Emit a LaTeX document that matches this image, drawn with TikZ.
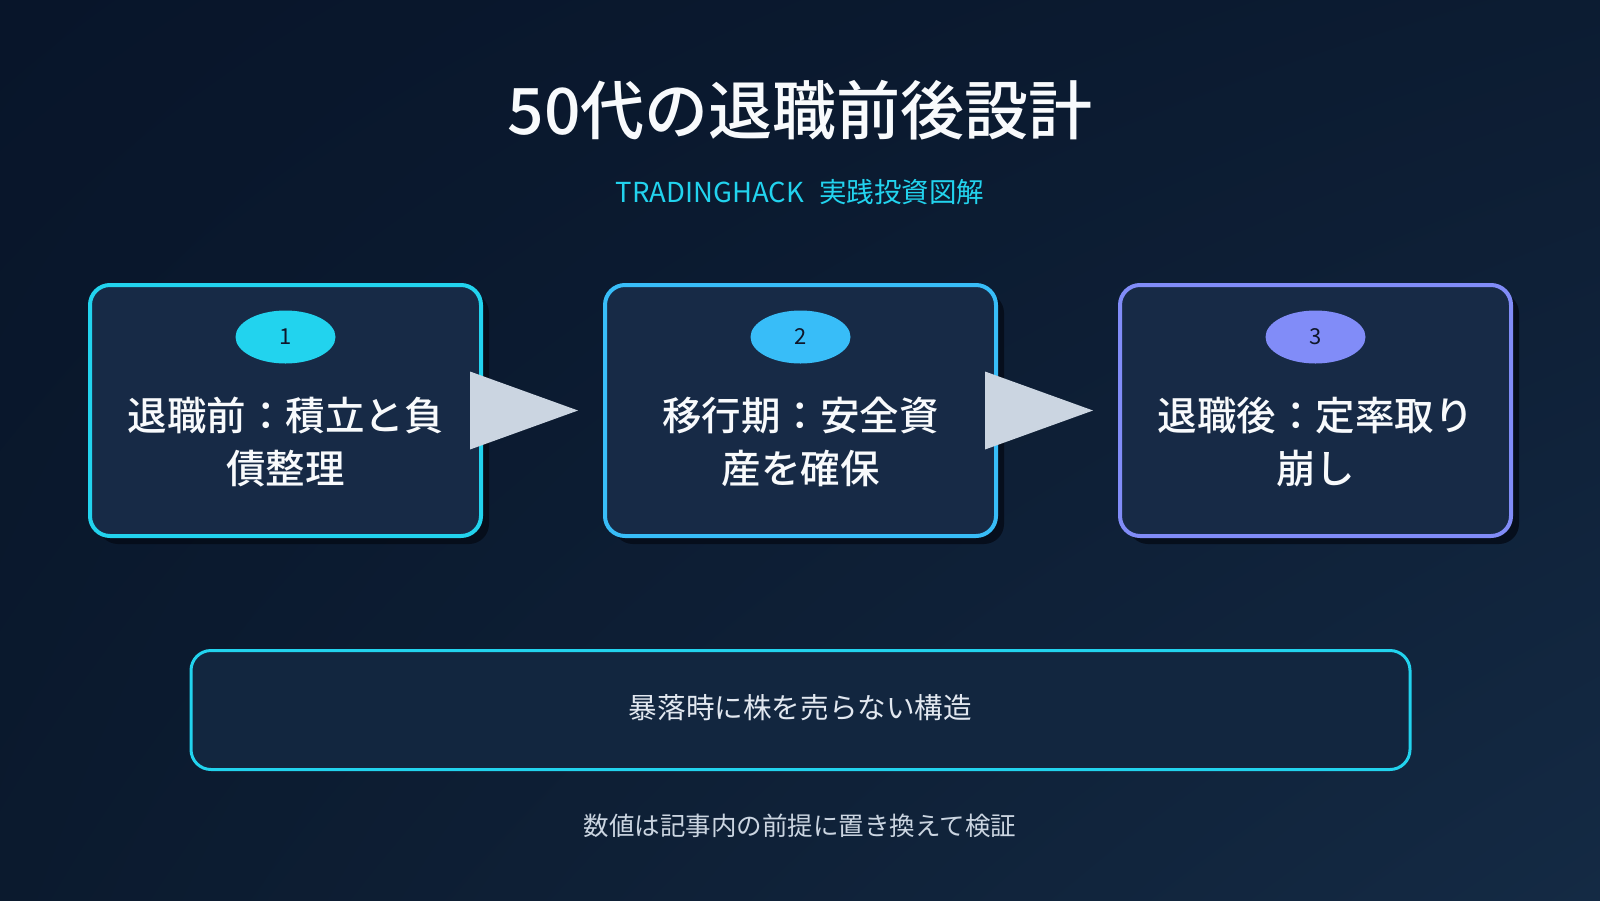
\documentclass[tikz,border=0pt]{standalone}
\usepackage{fontspec}
\setmainfont{Noto Sans CJK JP}[BoldFont={Noto Sans CJK JP Medium}]
\usetikzlibrary{calc,shapes.geometric,shadows,shadings}
\definecolor{bgTL}{HTML}{08152A}
\definecolor{bgTR}{HTML}{0C1C32}
\definecolor{bgBL}{HTML}{0B1A2E}
\definecolor{bgBR}{HTML}{142A44}
\definecolor{boxfill}{HTML}{172A46}
\definecolor{boxfillB}{HTML}{12263F}
\definecolor{shadowc}{HTML}{050C18}
\definecolor{cyanc}{HTML}{22D3EE}
\definecolor{skyc}{HTML}{38BDF8}
\definecolor{indigoc}{HTML}{818CF8}
\definecolor{arrowc}{HTML}{CBD5E1}
\definecolor{titlec}{HTML}{F8FAFC}
\definecolor{softc}{HTML}{E2E8F0}
\definecolor{footc}{HTML}{CBD5E1}
\definecolor{badgetext}{HTML}{0F172A}
\tikzset{
  stepbox/.style={draw=#1, line width=4pt, fill=boxfill, rounded corners=20pt,
    minimum width=391pt, minimum height=251pt, inner sep=0pt,
    drop shadow={shadow xshift=8pt, shadow yshift=-8pt, fill=shadowc, opacity=0.85}},
  badge/.style={ellipse, fill=#1, minimum width=100pt, minimum height=53pt, inner sep=0pt,
    text=badgetext, font=\fontsize{22}{26}\selectfont},
  steptext/.style={text=titlec, align=center, font=\fontsize{39.5}{53}\selectfont\bfseries},
  flowarrow/.style={fill=arrowc}
}
\begin{document}
\begin{tikzpicture}[x=1pt,y=-1pt]
\useasboundingbox (0,0) rectangle (1600,900);
\shade[upper left=bgTL, upper right=bgTR, lower left=bgBL, lower right=bgBR] (0,0) rectangle (1600,900);

\node[text=titlec, font=\fontsize{64}{70}\selectfont\bfseries] (title) at (800,110) {50代の退職前後設計};
\node[text=cyanc, font=\fontsize{27.5}{32}\selectfont] (sub) at (800,192) {TRADINGHACK\hspace{0.55em}実践投資図解};

\node[stepbox=cyanc] (b1) at (285.5,410.5) {};
\node[stepbox=skyc] (b2) at (800.5,410.5) {};
\node[stepbox=indigoc] (b3) at (1315.5,410.5) {};

\node[badge=cyanc] (n1) at (285.5,337) {1};
\node[badge=skyc] (n2) at (800.5,337) {2};
\node[badge=indigoc] (n3) at (1315.5,337) {3};

\node[steptext] (t1) at (285.5,442) {退職前：積立と負\\債整理};
\node[steptext] (t2) at (800.5,442) {移行期：安全資\\産を確保};
\node[steptext] (t3) at (1315.5,442) {退職後：定率取り\\崩し};

\fill[flowarrow] ($(b1.east)+(-13,-39)$) -- ($(b2.west)+(-25,0)$) -- ($(b1.east)+(-13,39)$) -- cycle;
\fill[flowarrow] ($(b2.east)+(-13,-39)$) -- ($(b3.west)+(-25,0)$) -- ($(b2.east)+(-13,39)$) -- cycle;

\node[draw=cyanc, line width=3pt, fill=boxfillB, rounded corners=20pt,
  minimum width=1219pt, minimum height=119pt, inner sep=0pt] (bottom) at (800.5,710) {};
\node[text=softc, font=\fontsize{28.6}{32}\selectfont] (btext) at (800.5,708) {暴落時に株を売らない構造};

\node[text=footc, font=\fontsize{25.5}{30}\selectfont] (foot) at (800,826) {数値は記事内の前提に置き換えて検証};
\end{tikzpicture}
\end{document}
